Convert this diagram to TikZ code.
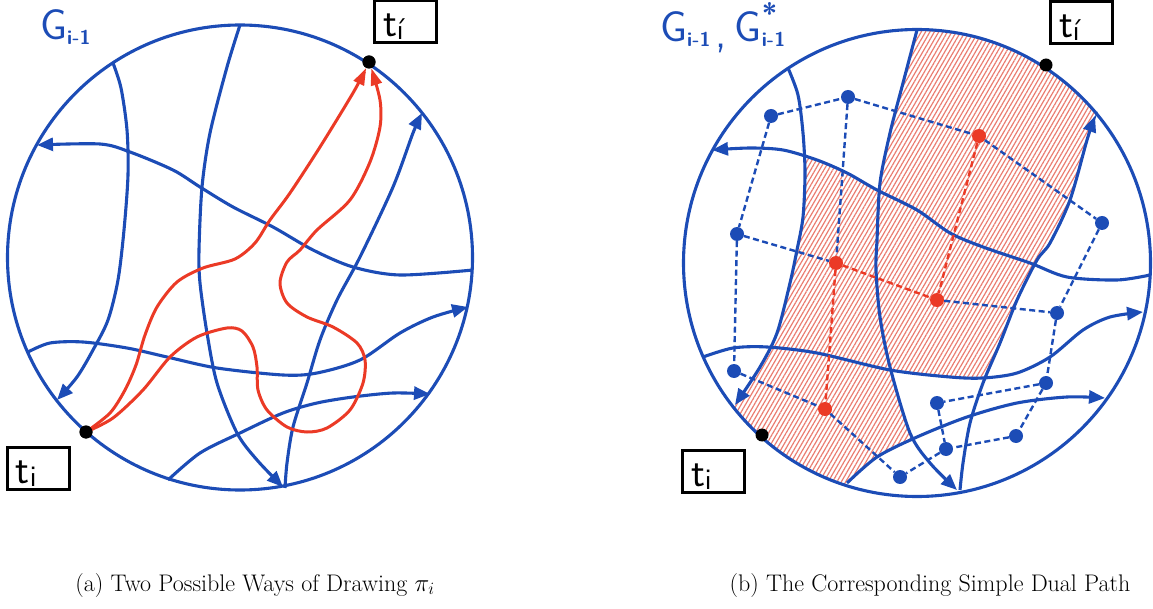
\documentclass[tikz,border=0pt]{standalone}
\usepackage{fontspec}
\usetikzlibrary{arrows.meta,patterns.meta}
\definecolor{gblue}{RGB}{28,76,182}
\definecolor{pred}{RGB}{235,58,38}
\definecolor{hred}{RGB}{234,124,112}
\tikzset{
  gline/.style={gblue,line width=3.1pt},
  garrow/.style={gline,-{Triangle[length=16pt,width=13pt]}},
  rarrow/.style={pred,line width=3pt,-{Triangle[length=17pt,width=11pt]}},
  tdot/.style={circle,fill=black,inner sep=0pt,minimum size=13pt},
  bdot/.style={circle,fill=gblue,inner sep=0pt,minimum size=14pt},
  rdot/.style={circle,fill=pred,inner sep=0pt,minimum size=14pt},
  bdash/.style={gblue,line width=2.4pt,dash pattern=on 6pt off 3.5pt},
  rdash/.style={pred,line width=2.4pt,dash pattern=on 6pt off 3.5pt},
  tbox/.style={draw=black,line width=3pt,minimum width=62pt,minimum height=42pt,inner sep=0pt,text height=34pt,text depth=4pt,font=\sffamily\fontsize{41}{41}\selectfont},
  hatch/.style={pattern={Lines[angle=60,distance=3.8pt,line width=1.2pt]},pattern color=hred},
  glabel/.style={gblue,font=\sffamily\fontsize{43}{43}\selectfont,inner sep=0pt,anchor=base west},
  capt/.style={font=\fontsize{24}{28}\selectfont,inner sep=0pt,anchor=base},
  pLA/.style={insert path={plot[smooth] coordinates {(113,63) (121,88) (127,130) (128,175) (124,230) (118,280) (108,320) (93,350) (77,377) (57,400)}}},
  pLB/.style={insert path={plot[smooth] coordinates {(240,25) (227,67) (210,133) (202,187) (199,250) (200,283) (207,333) (217,383) (237,433) (257,460) (283,487)}}},
  pLC/.style={insert path={plot[smooth] coordinates {(473,270) (400,275) (353,267) (313,250) (273,227) (233,207) (200,187) (173,170) (130,152) (100,144) (37,145)}}},
  pLD/.style={insert path={plot[smooth] coordinates {(285,488) (287,463) (293,427) (307,383) (320,340) (337,300) (360,257) (393,187) (413,133) (422,113)}}},
  pLE/.style={insert path={plot[smooth] coordinates {(28,352) (50,343) (83,342) (127,348) (167,357) (217,368) (283,375) (317,373) (360,360) (400,333) (433,317) (468,307)}}},
  pLF/.style={insert path={plot[smooth] coordinates {(168,480) (200,453) (240,433) (283,413) (317,403) (353,397) (393,393) (430,394)}}},
  pRA/.style={insert path={plot[smooth] coordinates {(788,68) (798,95) (803,133) (805,173) (803,217) (797,250) (790,283) (777,333) (760,367) (735,405)}}},
  pRB/.style={insert path={plot[smooth] coordinates {(917,30) (903,83) (890,133) (880,183) (877,240) (876,270) (880,317) (890,367) (910,433) (930,463) (957,490)}}},
  pRC/.style={insert path={plot[smooth] coordinates {(1150,275) (1117,280) (1067,277) (1030,263) (983,247) (950,233) (917,210) (877,190) (847,173) (817,160) (783,150) (750,148) (712,150)}}},
  pRD/.style={insert path={plot[smooth] coordinates {(960,490) (963,463) (970,423) (983,383) (1000,343) (1017,300) (1037,260) (1050,243) (1070,200) (1087,140) (1095,116)}}},
  pRE/.style={insert path={plot[smooth] coordinates {(703,357) (733,348) (767,347) (817,353) (890,370) (950,377) (983,378) (1017,373) (1050,357) (1083,330) (1110,317) (1143,312)}}},
  pRF/.style={insert path={plot[smooth] coordinates {(847,483) (877,457) (917,437) (967,417) (1017,403) (1067,397) (1105,398)}}},
}
\newcommand{\gsub}{\raisebox{-5pt}{\bfseries\fontsize{20}{20}\selectfont i-1}}
\newcommand{\tsub}{\raisebox{-3pt}{\fontsize{30}{30}\selectfont i}}
\newcommand{\tprime}{\raisebox{-3pt}{\fontsize{30}{30}\selectfont í}}
\newcommand{\tleft}[1]{\makebox[62pt][l]{\hspace{9pt}#1}}
\begin{document}
\begin{tikzpicture}[x=1pt,y=-1pt]
\useasboundingbox (0,0) rectangle (1153,609);

% ---------------- left figure ----------------
\node[glabel] (gl) at (40,40) {G\gsub};
\draw[gline] (240,257.5) circle (232.5);
\draw[garrow,pLA];
\draw[garrow,pLB];
\draw[garrow,pLC];
\draw[garrow,pLD];
\draw[garrow,pLE];
\draw[garrow,pLF];
\node[tdot] (ti) at (86,432) {};
\node[tdot] (tip) at (369,62) {};
\draw[rarrow] plot[smooth] coordinates {(ti) (110,413) (125,390) (136,365) (145,335) (157,307) (177,282) (203,268) (235,259) (255,243) (270,220) (290,193) (320,147) (353,93) (tip.245)};
\draw[rarrow] plot[smooth] coordinates {(ti) (113,418) (143,390) (170,357) (197,337) (227,328) (242,331) (253,347) (257,367) (258,390) (267,410) (287,427) (307,432) (327,428) (350,410) (363,383) (365,360) (357,343) (333,327) (307,317) (287,303) (280,283) (287,262) (300,250) (317,230) (350,200) (370,162) (380,127) (380,100) (tip.290)};
\node[tdot] at (ti) {};
\node[tdot] at (tip) {};
\node[tbox] (bti) at (38,468) {\tleft{t\tsub}};
\node[tbox] (btip) at (405,22) {\tleft{t\tprime}};

% ---------------- right figure ----------------
\node[glabel] (gr) at (660,42) {G\gsub\hspace{5pt}\raisebox{-6pt}{,}\hspace{8pt}G\rlap{\raisebox{18pt}{\bfseries\fontsize{28}{28}\selectfont *}}\gsub};
\begin{scope}
  \clip (917,263) circle (233.5);
  \clip[pRB] -- (1200,600) -- (1200,-50) -- (917,-50) -- cycle;
  \clip[pRD] -- (1095,-50) -- (600,-50) -- (600,620) -- (960,620) -- cycle;
  \clip[pRE] -- (1200,312) -- (1200,-50) -- (650,-50) -- (650,357) -- cycle;
  \fill[hatch] (600,0) rectangle (1200,600);
\end{scope}
\begin{scope}
  \clip (917,263) circle (233.5);
  \clip[pRA] -- (735,620) -- (1200,620) -- (1200,-50) -- (788,-50) -- cycle;
  \clip[pRB] -- (957,620) -- (600,620) -- (600,-50) -- (917,-50) -- cycle;
  \clip[pRC] -- (650,150) -- (650,620) -- (1200,620) -- (1200,275) -- cycle;
  \clip[pRF] -- (1200,398) -- (1200,-50) -- (600,-50) -- (600,620) -- (840,620) -- cycle;
  \fill[hatch] (600,0) rectangle (1200,600);
\end{scope}
\draw[gline] (917,263) circle (233.5);
\draw[garrow,pRA];
\draw[garrow,pRB];
\draw[garrow,pRC];
\draw[garrow,pRD];
\draw[garrow,pRE];
\draw[garrow,pRF];

\node[bdot] (d1) at (848,97) {};
\node[bdot] (d2) at (771,116) {};
\node[rdot] (r1) at (979,136) {};
\node[bdot] (d3) at (1102,223) {};
\node[bdot] (d4) at (737,234) {};
\node[rdot] (r2) at (836,263) {};
\node[rdot] (r3) at (937,300) {};
\node[bdot] (d5) at (1057,313) {};
\node[bdot] (d6) at (734,371) {};
\node[bdot] (d7) at (1046,383) {};
\node[bdot] (d8) at (937,403) {};
\node[rdot] (r4) at (825,409) {};
\node[bdot] (d9) at (1016,436) {};
\node[bdot] (d10) at (946,449) {};
\node[bdot] (d11) at (900,477) {};

\draw[bdash] (d2) -- (d1);
\draw[bdash] (d1) -- (r1);
\draw[bdash] (d1) -- (r2);
\draw[bdash] (d2) -- (d4);
\draw[bdash] (r1) -- (d3);
\draw[bdash] (d4) -- (r2);
\draw[bdash] (d4) -- (d6);
\draw[bdash] (r3) -- (d5);
\draw[bdash] (d3) -- (d5);
\draw[bdash] (d5) -- (d7);
\draw[bdash] (d6) -- (r4);
\draw[bdash] (d7) -- (d8);
\draw[bdash] (d7) -- (d9);
\draw[bdash] (d8) -- (d10);
\draw[bdash] (d9) -- (d10);
\draw[bdash] (d10) -- (d11);
\draw[bdash] (r4) -- (d11);
\draw[rdash] (r1) -- (r3);
\draw[rdash] (r2) -- (r3);
\draw[rdash] (r2) -- (r4);

\node[tdot] (si) at (762,435) {};
\node[tdot] (sip) at (1046,65) {};
\node[tbox] (bsi) at (713,471) {\tleft{t\tsub}};
\node[tbox] (bsip) at (1081,23) {\tleft{t\tprime}};

% ---------------- captions ----------------
\node[capt] (ca) at (255,591) {(a) Two Possible Ways of Drawing $\pi_i$};
\node[capt] (cb) at (930,591) {(b) The Corresponding Simple Dual Path};
\end{tikzpicture}
\end{document}
